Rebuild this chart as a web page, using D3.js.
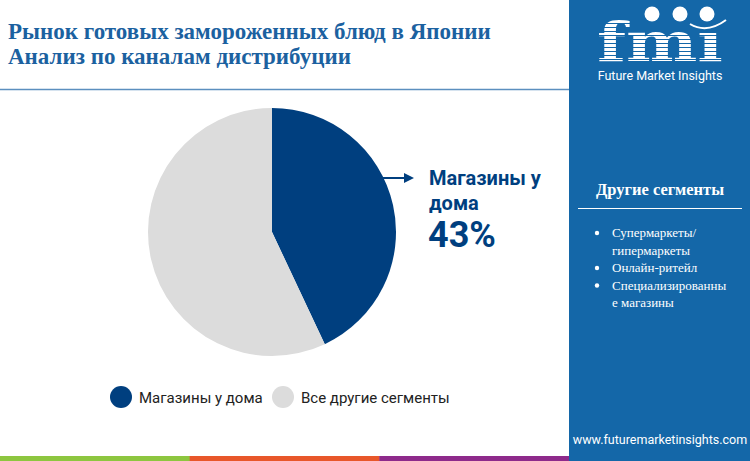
<!DOCTYPE html>
<html>
<head>
<meta charset="utf-8">
<script src="https://cdn.jsdelivr.net/npm/d3@7"></script>
<style>
  body { margin: 0; background: #fff; }
  svg { display: block; }
</style>
</head>
<body>
<svg id="chart" width="750" height="461"></svg>
<script>
// chart data
const segments = ["Магазины у дома", "Все другие сегменты"];
const shares = [43, 57];
const sliceColors = ["#003f7f", "#dcdcdc"];
const otherSegments = [["Супермаркеты/", "гипермаркеты"], ["Онлайн-ритейл"], ["Специализированны", "е магазины"]];
const titleLines = ["Рынок готовых замороженных блюд в Японии", "Анализ по каналам дистрибуции"];
const bottomColors = ["#8dc63f", "#e8572a", "#8e2a8b"];

const svg = d3.select("#chart");
const W = 750, H = 461, panelX = 569;
const panelColor = "#1467a8";
const defs = svg.append("defs");

// title
svg.selectAll(".title")
  .data(titleLines)
  .enter().append("text")
  .attr("class", "title")
  .attr("x", 8)
  .attr("y", (d, i) => 39 + i * 25)
  .attr("font-family", "Liberation Serif, DejaVu Serif, serif")
  .attr("font-weight", "bold")
  .attr("font-size", 23)
  .attr("fill", "#1b61a0")
  .text(d => d);

svg.append("line")
  .attr("x1", 0).attr("x2", panelX)
  .attr("y1", 89.5).attr("y2", 89.5)
  .attr("stroke", "#5b8fbf")
  .attr("stroke-width", 1.5);

// pie
const cx = 272, cy = 232, r = 124;
const pie = d3.pie().sort(null).value(d => d);
const arc = d3.arc().innerRadius(0).outerRadius(r);
const arcs = pie(shares);

const g = svg.append("g").attr("transform", "translate(" + cx + "," + cy + ")");
g.selectAll("path")
  .data(arcs)
  .enter().append("path")
  .attr("d", arc)
  .attr("fill", (d, i) => sliceColors[i]);

// callout arrow + label for the first slice
const arrowY = 178;
const arrowStart = cx + Math.sqrt(r * r - (arrowY - cy) * (arrowY - cy));
defs.append("marker")
  .attr("id", "arrow")
  .attr("viewBox", "0 0 10 10")
  .attr("refX", 8).attr("refY", 5)
  .attr("markerWidth", 5).attr("markerHeight", 5)
  .attr("orient", "auto")
  .append("path")
  .attr("d", "M0,0 L10,5 L0,10 z")
  .attr("fill", sliceColors[0]);

svg.append("line")
  .attr("x1", arrowStart - 2).attr("x2", 412)
  .attr("y1", arrowY).attr("y2", arrowY)
  .attr("stroke", sliceColors[0])
  .attr("stroke-width", 2)
  .attr("marker-end", "url(#arrow)");

const label = svg.append("g").attr("fill", sliceColors[0])
  .attr("font-family", "Roboto, sans-serif").attr("font-weight", "bold");
label.append("text").attr("x", 429).attr("y", 185).attr("font-size", 20).text("Магазины у");
label.append("text").attr("x", 429).attr("y", 210).attr("font-size", 20).text("дома");
label.append("text").attr("x", 428).attr("y", 247).attr("font-size", 36).text(shares[0] + "%");

// legend
const legendX = [121, 283];
const legend = svg.selectAll(".legend")
  .data(segments)
  .enter().append("g")
  .attr("class", "legend")
  .attr("transform", (d, i) => "translate(" + legendX[i] + ",397)");
legend.append("circle").attr("r", 11).attr("fill", (d, i) => sliceColors[i]);
legend.append("text")
  .attr("x", 18).attr("y", 5.5)
  .attr("font-family", "Roboto, sans-serif")
  .attr("font-size", 15)
  .attr("fill", "#222")
  .text(d => d);

// bottom colour strip
const stripX = d3.scaleBand().domain(d3.range(bottomColors.length)).range([0, panelX]);
svg.selectAll(".strip")
  .data(bottomColors)
  .enter().append("rect")
  .attr("x", (d, i) => stripX(i))
  .attr("y", 456)
  .attr("width", stripX.bandwidth() + 0.5)
  .attr("height", 5)
  .attr("fill", d => d);

// right panel
svg.append("rect")
  .attr("x", panelX).attr("y", 0)
  .attr("width", W - panelX).attr("height", H)
  .attr("fill", panelColor);

// logo: striped "fmi" letters (glyph outline used as a clip)
defs.append("clipPath").attr("id", "fmiClip")
  .append("text")
  .attr("x", 660).attr("y", 61)
  .attr("text-anchor", "middle")
  .attr("font-family", "DejaVu Serif, serif")
  .attr("font-weight", "bold")
  .attr("font-size", 54)
  .attr("textLength", 126)
  .attr("lengthAdjust", "spacingAndGlyphs")
  .text("fmi");

const logo = svg.append("g");
logo.append("g").attr("clip-path", "url(#fmiClip)")
  .selectAll("rect")
  .data(d3.range(16, 64, 4))
  .enter().append("rect")
  .attr("x", 590).attr("width", 140)
  .attr("y", d => d).attr("height", 3)
  .attr("fill", "#fff");
// hide the dot of the i, the globe sits there
logo.append("rect")
  .attr("x", 693).attr("y", 8).attr("width", 30).attr("height", 23)
  .attr("fill", panelColor);
logo.selectAll(".globe")
  .data([652, 680, 707])
  .enter().append("circle")
  .attr("cx", d => d).attr("cy", 14).attr("r", 7.5)
  .attr("fill", "#fff");
logo.append("path")
  .attr("d", "M690,24 Q707,34 726,20")
  .attr("fill", "none").attr("stroke", "#fff").attr("stroke-width", 2);
logo.append("text")
  .attr("x", 660).attr("y", 80)
  .attr("text-anchor", "middle")
  .attr("font-family", "Roboto, sans-serif")
  .attr("font-size", 12.5)
  .attr("fill", "#fff")
  .text("Future Market Insights");

// other segments box
svg.append("text")
  .attr("x", 660).attr("y", 195)
  .attr("text-anchor", "middle")
  .attr("font-family", "Liberation Serif, serif")
  .attr("font-weight", "bold")
  .attr("font-size", 16.5)
  .attr("fill", "#fff")
  .text("Другие сегменты");
svg.append("line")
  .attr("x1", 578).attr("x2", 742)
  .attr("y1", 208.5).attr("y2", 208.5)
  .attr("stroke", "#fff").attr("stroke-width", 1.2);

let lineY = 237;
otherSegments.forEach(item => {
  svg.append("circle").attr("cx", 597).attr("cy", lineY - 4).attr("r", 2.2).attr("fill", "#fff");
  item.forEach(t => {
    svg.append("text")
      .attr("x", 612).attr("y", lineY)
      .attr("font-family", "Liberation Serif, serif")
      .attr("font-size", 13)
      .attr("fill", "#fff")
      .text(t);
    lineY += 17.5;
  });
});

svg.append("text")
  .attr("x", 660).attr("y", 444)
  .attr("text-anchor", "middle")
  .attr("font-family", "Roboto, sans-serif")
  .attr("font-size", 12.5)
  .attr("fill", "#fff")
  .text("www.futuremarketinsights.com");
</script>
</body>
</html>
